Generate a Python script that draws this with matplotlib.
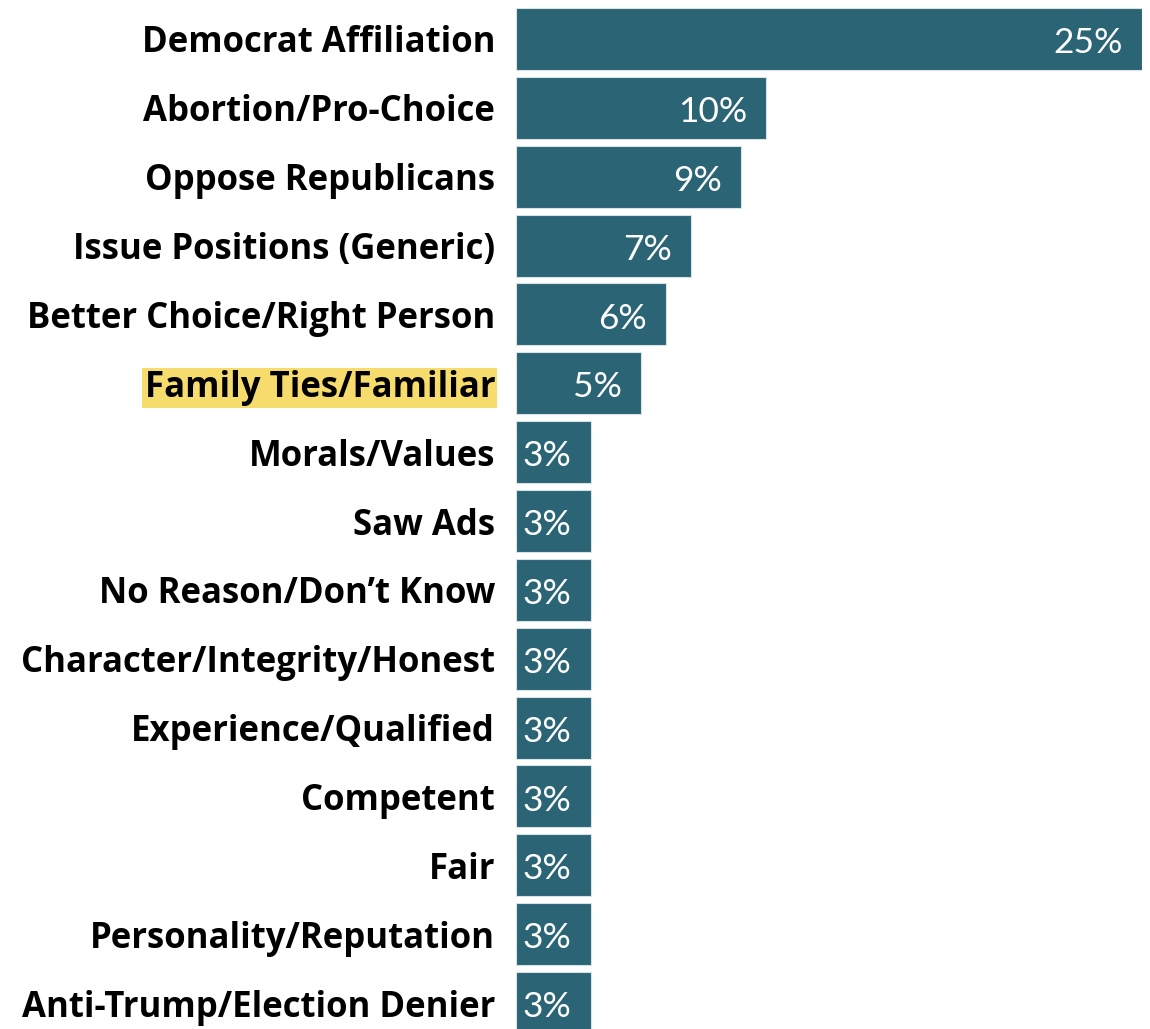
import matplotlib.pyplot as plt

# ── data ─────────────────────────────────────────────────────────────
categories = [
    "Democrat Affiliation",
    "Abortion/Pro-Choice",
    "Oppose Republicans",
    "Issue Positions (Generic)",
    "Better Choice/Right Person",
    "Family Ties/Familiar",
    "Morals/Values",
    "Saw Ads",
    "No Reason/Don\u2019t Know",
    "Character/Integrity/Honest",
    "Experience/Qualified",
    "Competent",
    "Fair",
    "Personality/Reputation",
    "Anti-Trump/Election Denier",
]
values = [25, 10, 9, 7, 6, 5, 3, 3, 3, 3, 3, 3, 3, 3, 3]
highlight = "Family Ties/Familiar"

BAR = "#2a6475"
YELLOW = "#f6dc6c"

W, H = 1150, 1029
fig = plt.figure(figsize=(W / 100, H / 100), dpi=100)
fig.patch.set_facecolor("white")

# axes placed in pixel terms: bars start at x=516, 25% reaches x=1142
pitch = 68.86
c0 = 39.0
ax = fig.add_axes([516 / W, 0, (1142 - 516) / W, 1])
ypos = list(range(len(categories)))
ax.barh(ypos, values, height=0.9, color=BAR, edgecolor="#d8e3e7", linewidth=0.8)
ax.set_xlim(0, 25)
ax.set_ylim((H - c0) / pitch, -c0 / pitch)

for y, v in zip(ypos, values):
    ax.annotate(f"{v}%", xy=(v, y), xytext=(-14, -3), textcoords="offset points",
                ha="right", va="center", color="white", fontsize=25.5,
                family="Lato")

ax.set_yticks(ypos)
ax.set_yticklabels(categories, fontsize=25, fontweight="bold", family="Open Sans")
ax.tick_params(axis="y", length=0, pad=15)
for lbl in ax.get_yticklabels():
    lbl.set_va("center_baseline")
    if lbl.get_text() == highlight:
        lbl.set_bbox(dict(boxstyle="square,pad=0.06", fc=YELLOW, ec="none"))
ax.set_xticks([])
for s in ax.spines.values():
    s.set_visible(False)

fig.savefig("out.png", dpi=100, facecolor="white")
